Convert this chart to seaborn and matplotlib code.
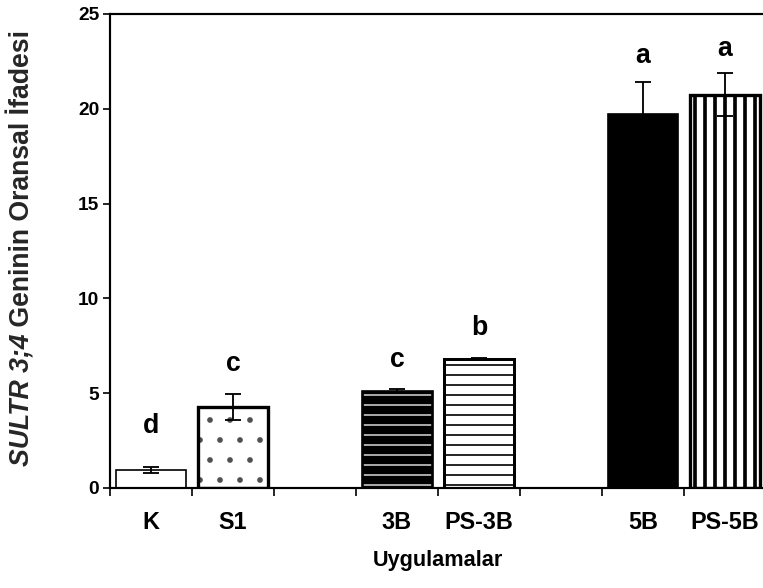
import numpy as np
import pandas as pd
import matplotlib
matplotlib.use("Agg")
import matplotlib.pyplot as plt
from matplotlib.patches import Rectangle
import seaborn as sns

# ---- data ----
categories = ['K', 'S1', '3B', 'PS-3B', '5B', 'PS-5B']
values = [0.95, 4.27, 5.12, 6.82, 19.75, 20.75]
errors = [0.15, 0.70, 0.08, 0.05, 1.65, 1.15]
letters = ['d', 'c', 'c', 'b', 'a', 'a']
letter_y = [2.92, 6.17, 6.40, 8.05, 22.40, 22.76]
slot_order = ['K', 'S1', ' ', '3B', 'PS-3B', '  ', '5B', 'PS-5B']
y_ticks = [0, 5, 10, 15, 20, 25]

# ---- styles per bar ----
face = ['white', 'white', 'black', 'white', 'black', 'white']
hatch = [None, '.', '--', '--', None, '||']
hatch_col = ['black', '#505050', '#c8c8c8', 'black', 'black', 'black']
hatch_lw = [1.0, 1.0, 1.0, 1.0, 1.0, 2.2]
edge_lw = [1.0, 2.0, 1.6, 1.8, 1.0, 2.0]

sns.set_theme(style='white')
plt.rcParams['font.family'] = ['Liberation Sans', 'DejaVu Sans']

DPI = 120
W, H = 763, 588
fig = plt.figure(figsize=(W / DPI, H / DPI), dpi=DPI)
ax = fig.add_axes([110 / W, 100 / H, 656 / W, 474 / H])

df = pd.DataFrame({'cat': categories, 'val': values})
sns.barplot(data=df, x='cat', y='val', order=slot_order, width=0.85,
            color='white', errorbar=None, ax=ax)

pos = {c: slot_order.index(c) for c in categories}
patches = list(ax.patches)
for p in patches:
    cx = p.get_x() + p.get_width() / 2
    idx = None
    for i, c in enumerate(categories):
        if abs(pos[c] - cx) < 0.3:
            idx = i
    if idx is None:
        continue
    p.set_facecolor(face[idx])
    if hatch[idx]:
        p.set_hatch(hatch[idx])
        p.set_edgecolor(hatch_col[idx])
        p.set_linewidth(0)
        if hasattr(p, 'set_hatch_linewidth'):
            p.set_hatch_linewidth(hatch_lw[idx])
        else:
            p._hatch_linewidth = hatch_lw[idx]
    else:
        p.set_edgecolor('black')
        p.set_linewidth(0)
    outline = Rectangle((p.get_x(), p.get_y()), p.get_width(), p.get_height(),
                        fill=False, edgecolor='black', linewidth=edge_lw[idx],
                        zorder=p.get_zorder() + 0.1)
    ax.add_patch(outline)

xs = [pos[c] for c in categories]
ax.errorbar(xs, values, yerr=errors, fmt='none', ecolor='black',
            elinewidth=1.1, capsize=5, capthick=1.1, zorder=5)

for x, ly, t in zip(xs, letter_y, letters):
    ax.text(x, ly, t, ha='center', va='baseline', fontsize=16,
            fontweight='bold', color='black')

ax.set_ylim(0, 25)
ax.set_xlim(-0.5, 7.5)
ax.set_yticks(y_ticks)
ax.set_yticklabels([str(t) for t in y_ticks], fontsize=11.5, fontweight='bold')

ax.set_xticks(np.arange(-0.5, 8.0, 1.0))
ax.set_xticklabels([])
ax.set_xticks(xs, minor=True)
ax.set_xticklabels(categories, minor=True, fontsize=14, fontweight='bold')
ax.tick_params(axis='x', which='major', direction='out', length=4.5, width=1.0,
               color='black', bottom=True)
ax.tick_params(axis='x', which='minor', length=0, pad=14, bottom=True)
ax.tick_params(axis='y', direction='out', length=4.5, width=1.0, color='black',
               left=True, pad=2, labelcolor='black')
ax.tick_params(axis='x', which='both', labelcolor='black')

for s in ['left', 'bottom', 'top']:
    ax.spines[s].set_visible(True)
    ax.spines[s].set_color('black')
    ax.spines[s].set_linewidth(1.3)
ax.spines['right'].set_visible(False)

ax.set_ylabel('')
ax.set_xlabel('Uygulamalar', fontsize=13, fontweight='bold', color='black')
ax.xaxis.set_label_coords(0.5, -(550 - 488) / 474)

# y label: italic gene name followed by bold text, stacked vertically
renderer = fig.canvas.get_renderer()
lab_x = 35 / W
t1 = fig.text(lab_x, 0, 'SULTR 3;4', rotation=90, fontsize=16,
              fontweight='bold', fontstyle='italic', ha='right', va='bottom')
t2 = fig.text(lab_x, 0, ' Geninin Oransal İfadesi', rotation=90, fontsize=16,
              fontweight='bold', ha='right', va='bottom')
h1 = t1.get_window_extent(renderer).height
h2 = t2.get_window_extent(renderer).height
center_px = H - 248
y0 = center_px - (h1 + h2) / 2
t1.set_y(y0 / H)
t2.set_y((y0 + h1) / H)

fig.savefig('out.png', dpi=DPI)
